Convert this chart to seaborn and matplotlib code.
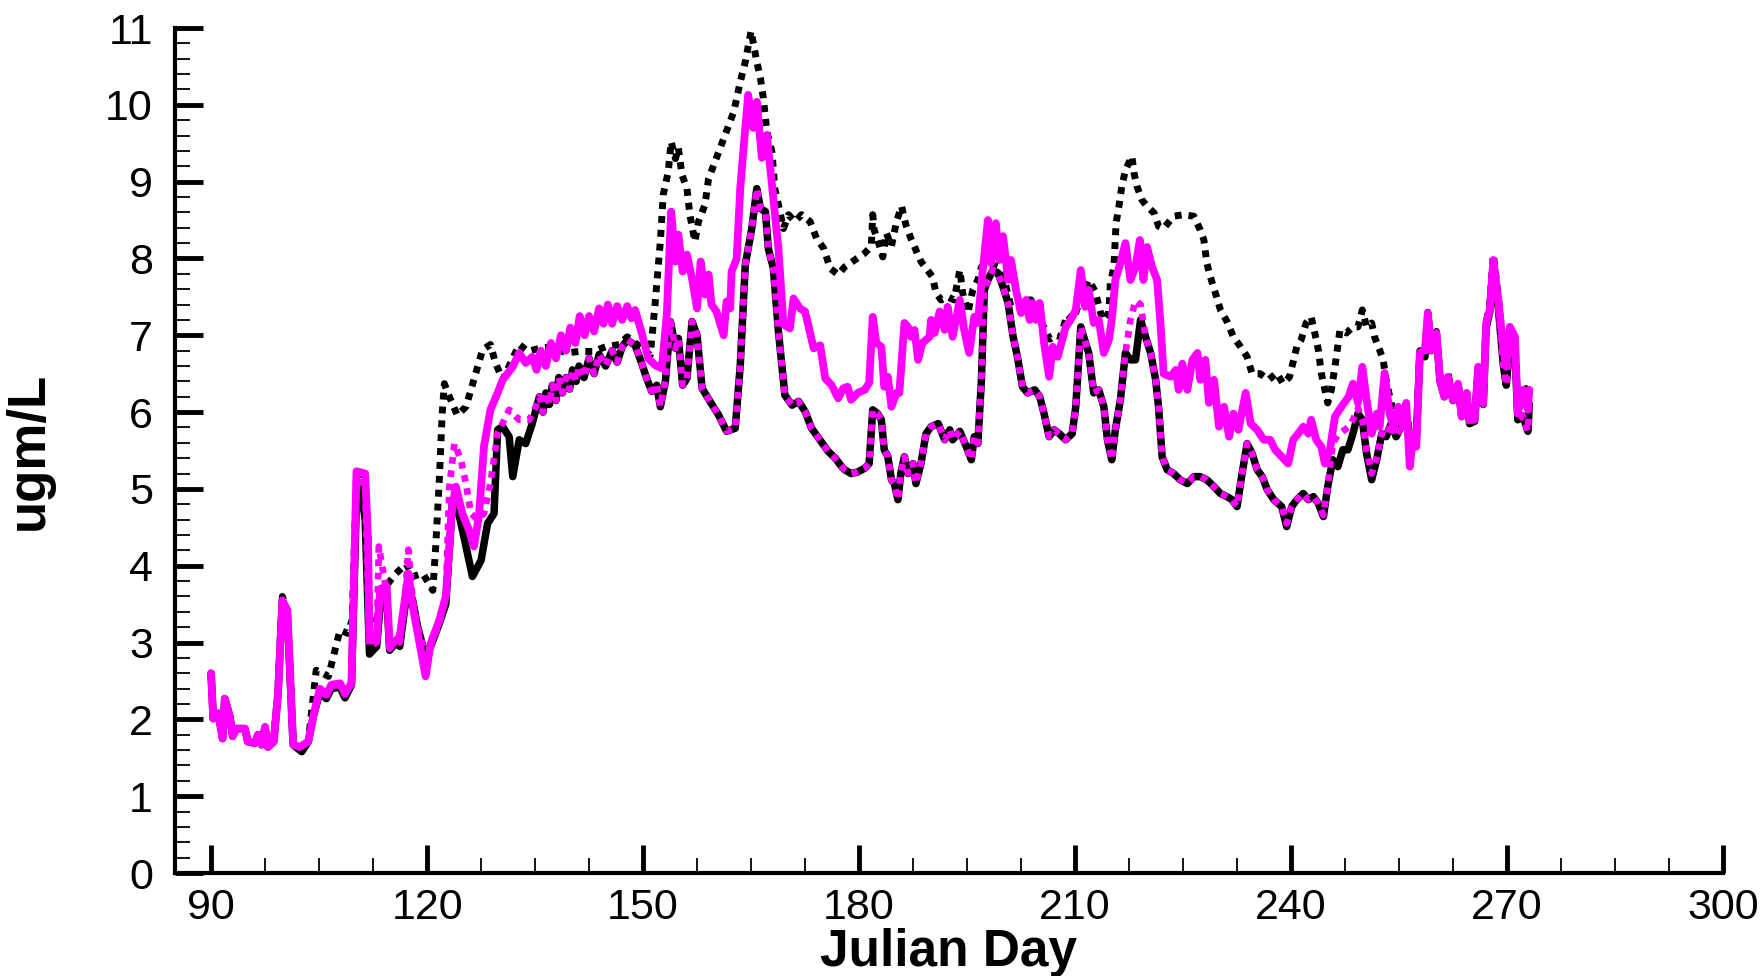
import pandas as pd
import matplotlib
matplotlib.use("Agg")
import matplotlib.pyplot as plt
import seaborn as sns
from matplotlib.ticker import MultipleLocator

# black solid (lower trace)
bs_day = [90, 90.3, 91, 91.6, 91.9, 92.6, 93, 93.5, 94.7, 95.1, 96.1, 96.5, 97, 97.5, 97.9, 98.7, 99.3, 99.9,
          100.6, 101.4, 102.3, 102.6, 103.5, 104.2, 105.1, 106, 106.7, 107.9, 108.6, 109.5, 110.2, 110.8, 111.4,
          112, 113, 113.5, 114.4, 114.8, 115.7, 116.2, 116.9, 117.4, 118, 118.7, 119.8, 120.5, 121.7, 122.6,
          123.5, 124, 125.2, 126.3, 127.5, 128.4, 129.3, 129.8, 130.5, 131.4, 131.9, 132.8, 133.7, 134.6, 135.6,
          136.1, 136.5, 137, 137.4, 137.9, 138.3, 138.8, 139.3, 139.8, 140.2, 140.7, 141.1, 141.8, 142.5, 143.2,
          143.9, 144.8, 145.7, 146.4, 147.1, 147.8, 148.9, 149.9, 150.5,
          151.2, 151.9, 152.4, 153.1, 153.8, 154.5, 154.9, 155.5, 156.1, 156.8, 157.5, 158.2, 159.3, 160.5,
          161.6, 162.8, 163.5, 164.2, 165.1, 165.8, 166.3, 167, 167.4, 168.1, 168.8, 169.7, 170.7, 171.6, 172.5,
          173.4, 174.4, 175.7, 176.7, 177.5, 178, 178.9, 179.8, 180.8, 181.4, 181.9, 182.6, 183.1, 183.5, 184,
          184.5, 184.9, 185.4, 185.8, 186.3, 186.8, 187.5, 187.9, 188.6, 189.3, 190, 191, 191.9, 192.6, 193, 194,
          194.9, 195.6, 196, 196.5, 197, 197.4, 197.9, 198.6, 199.3, 200, 200.7, 201.4, 202, 202.7, 203.4, 204.4,
          205.1, 205.7, 206.4, 207.1, 207.8, 208.7, 209.6, 210.1, 210.8, 211.2, 211.9, 212.6, 213.3, 214, 214.5,
          215.1, 215.6, 216.3, 217, 217.7, 218.4, 219.1, 219.8, 220.5, 221.2, 221.6, 222.1, 222.8, 223.7, 224.6,
          225.6, 226.5, 227.4, 228.3, 229.3, 230.2, 231.1, 231.8, 232.5, 233.2, 233.9, 234.6, 235.3, 236, 236.7,
          237.6, 238.7, 239.4, 240.1, 240.8, 241.7, 242.4, 243.1, 243.8, 244.5, 245.1, 245.8, 246.5, 247.2, 247.9,
          248.6, 249.3, 249.9, 250.5, 251.2, 251.9, 252.6, 253.2, 253.9, 254.6, 255.3, 256, 256.7, 257.4, 257.9,
          258.6, 259, 259.5, 260.2, 260.7, 261.3, 261.8, 262.5, 263.2, 263.7, 264.4, 264.8, 265.5, 266, 266.7,
          267.1, 267.6, 268.1, 268.8, 269.5, 269.9, 270.4, 271.1, 271.5, 272.2, 272.9, 273.1]
bs_val = [2.60, 2.01, 2.08, 1.75, 2.27, 2.04, 1.78, 1.88, 1.88, 1.71, 1.69, 1.80, 1.67, 1.90, 1.64, 1.71, 2.34, 3.55,
          3.35, 1.67, 1.60, 1.58, 1.71, 2.04, 2.35, 2.27, 2.40, 2.42, 2.28, 2.45, 4.90, 5.00, 4.60,
          2.85, 2.95, 3.50, 3.60, 2.90, 3.00, 2.95, 3.45, 3.70, 3.55, 3.20, 2.82, 2.95, 3.25, 3.50,
          4.81, 4.85, 4.34, 3.86, 4.07, 4.55, 4.68, 5.77, 5.81, 5.68, 5.16, 5.64, 5.59, 5.85, 6.20,
          6.00, 6.25, 6.10, 6.35, 6.15, 6.45, 6.25, 6.45, 6.30, 6.55, 6.40, 6.60, 6.45, 6.70, 6.50,
          6.75, 6.60, 6.80, 6.65, 6.85, 6.94, 6.87, 6.61, 6.44,
          6.27, 6.35, 6.07, 6.40, 7.18, 6.83, 6.96, 6.35, 6.44, 7.18, 7.00, 6.31, 6.14, 5.96,
          5.75, 5.79, 6.61, 7.92, 8.39, 8.91, 8.65, 8.61, 8.13, 7.87, 7.05, 6.22, 6.09, 6.14, 6.01,
          5.79, 5.66, 5.49, 5.40, 5.30, 5.25, 5.20, 5.22, 5.27, 5.33, 6.03, 5.98, 5.90, 5.51, 5.42,
          5.12, 5.07, 4.86, 5.20, 5.42, 5.20, 5.33, 5.07, 5.33, 5.72, 5.81, 5.85, 5.64, 5.77, 5.64, 5.75,
          5.55, 5.38, 5.68, 5.59, 6.42, 7.59, 7.72, 7.85, 7.81, 7.63, 7.42, 6.98, 6.72, 6.33, 6.25, 6.29,
          6.20, 5.98, 5.68, 5.77, 5.72, 5.64, 5.72, 6.07, 7.11, 6.98, 6.77, 6.25, 6.29, 6.07, 5.64,
          5.38, 5.77, 6.16, 6.77, 6.68, 6.68, 7.20, 6.98, 6.77, 6.42, 6.07, 5.42, 5.25, 5.20, 5.12,
          5.07, 5.16, 5.16, 5.12, 5.03, 4.94, 4.90, 4.86, 4.77, 5.20, 5.59, 5.46, 5.25, 5.16, 4.99,
          4.86, 4.77, 4.51, 4.77, 4.86, 4.94, 4.86, 4.90, 4.81, 4.64, 5.03, 5.38, 5.29, 5.51, 5.51,
          5.72, 5.98, 5.90, 5.46, 5.12, 5.38, 5.72, 5.68, 5.85, 5.68, 5.81, 5.98, 5.55, 5.64, 6.77,
          6.72, 7.24, 6.80, 7.00, 6.40, 6.20, 6.45, 6.15, 6.35, 5.95, 6.20, 5.85, 5.88, 6.55, 6.10,
          7.10, 7.30, 7.90, 7.35, 6.60, 6.35, 6.90, 6.80, 5.90, 5.95, 5.75, 6.10]

# black dotted (upper trace)
bd_day = [90, 90.3, 91, 91.6, 91.9, 92.6, 93, 93.5, 94.7, 95.1, 96.1, 96.5, 97, 97.5, 97.9, 98.7, 99.3, 99.9,
          100.6, 101.4, 102.3, 103.5, 104.2, 104.6, 105.5, 106.3, 107, 107.9, 109, 109.6, 110.2, 111.4, 111.8,
          112, 113, 113.5, 114.4, 115.7, 117.1, 118, 119.4, 120.8, 121.2, 121.7, 122.1, 122.4, 123.1, 124.2,
          125.4, 126.5, 127.7, 128.8, 129.5, 130.5, 131.9, 132.8, 134, 135.6, 137.4, 139.3, 141.1, 143, 144.8,
          146.7, 147.8, 149.9, 151, 151.7, 152.4, 152.8, 153.5, 153.9, 154.5, 154.9, 155.4, 156.1, 156.5, 157.2,
          157.7, 158.6, 159.1, 160, 161.4, 162.6, 163.5, 164.2, 165, 165.8, 166.3, 166.7, 167.2, 167.9, 168.3,
          168.8, 169.5, 170.2, 171.1, 172, 173.2, 174.1, 175.1, 176, 177.1, 178, 179.4, 180.8, 181.7, 181.9,
          182.1, 182.6, 183.3, 183.8, 184.5, 185.2, 185.9, 186.5, 187.2, 187.9, 188.6, 189.5, 190.2, 190.7,
          191.4, 192.3, 193.2, 194, 194.4, 195.1, 195.8, 196.5, 197, 197.9, 199.3, 200.2, 201.1, 202, 203, 203.9,
          204.8, 205.7, 206.5, 207.3, 208, 208.9, 209.8, 210.8, 211.9, 212.8, 213.8, 214.7, 214.9, 215.4, 215.7,
          216.1, 216.5, 217, 217.9, 218.2, 218.6, 219.3, 220, 221, 221.6, 222.3, 223.7, 225.1, 226.5, 227.4,
          227.9, 228.3, 228.8, 229.5, 230.2, 231.1, 232, 233, 233.9, 234.6, 235.7, 236.9, 238, 238.9, 239.8,
          240.8, 241.4, 242.1, 242.8, 243.3, 243.8, 244.2, 244.7, 245.1, 245.6, 246.1, 246.8, 247.7, 248.6,
          249.3, 249.9, 250.5, 251.2, 251.6, 252.3, 252.8, 253.2, 253.9, 254.6, 255.3, 256, 256.7, 257.4, 257.9,
          258.6, 259, 259.5, 260.2, 260.7, 261.3, 261.8, 262.5, 263.2, 263.7, 264.4, 264.8, 265.5, 266, 266.7,
          267.1, 267.6, 268.1, 268.8, 269.5, 269.9, 270.4, 271.1, 271.5, 272.2, 272.9, 273.1]
bd_val = [2.60, 2.01, 2.08, 1.75, 2.27, 2.04, 1.78, 1.88, 1.88, 1.71, 1.69, 1.80, 1.67, 1.90, 1.64, 1.71, 2.40, 3.60,
          3.40, 1.67, 1.64, 1.71, 2.30, 2.64, 2.60, 2.56, 2.82, 3.16, 3.12, 3.30, 5.20, 5.18, 4.30,
          3.20, 3.30, 3.60, 3.75, 3.90, 4.03, 3.86, 3.90, 3.68, 4.25, 5.12, 5.98, 6.37, 6.20, 5.96,
          6.07, 6.42, 6.81, 6.88, 6.64, 6.42, 6.70, 6.88, 6.79, 6.83, 6.85, 6.77, 6.79, 6.79, 6.85,
          6.88, 6.98, 6.83, 6.74, 7.44, 8.22, 8.83, 9.13, 9.52, 9.30, 9.44, 9.09, 8.91, 8.57, 8.22,
          8.48, 8.70, 9.04, 9.26, 9.61, 9.91, 10.30, 10.56, 10.96, 10.56, 10.35, 10.09, 9.65, 9.39, 8.91,
          8.70, 8.39, 8.57, 8.48, 8.57, 8.48, 8.26, 8.13, 7.87, 7.79, 7.89, 7.98, 8.07, 8.16, 8.57,
          8.37, 8.24, 8.02, 8.33, 8.16, 8.48, 8.68, 8.44, 8.26, 8.11, 7.96, 7.85, 7.76, 7.55,
          7.46, 7.50, 7.46, 7.85, 7.55, 7.29, 7.59, 7.72, 7.89, 7.94, 7.89, 7.72, 7.37, 7.37, 7.46, 7.46,
          7.24, 7.10, 6.95, 7.00, 6.98, 7.27, 7.20, 7.50, 7.72, 7.57, 7.20, 7.29, 7.68, 7.89, 8.46,
          8.68, 8.94, 9.15, 9.33, 9.11, 8.94, 8.76, 8.68, 8.59, 8.42, 8.39, 8.55, 8.57, 8.55, 8.37,
          8.24, 7.94, 7.76, 7.55, 7.33, 7.18, 6.98, 6.85, 6.72, 6.50, 6.50, 6.42, 6.51, 6.37, 6.46,
          6.85, 6.94, 7.16, 7.24, 7.03, 6.81, 6.51, 6.29, 6.12, 6.29, 6.59, 7.07, 7.03, 7.11,
          7.11, 7.33, 7.11, 7.16, 6.98, 6.81, 6.68, 6.42, 6.12, 5.90, 5.90, 6.00, 5.60, 5.70, 6.80,
          6.80, 7.30, 6.85, 7.05, 6.45, 6.25, 6.50, 6.20, 6.40, 5.95, 6.25, 5.95, 5.95, 6.60, 6.15,
          7.16, 7.40, 8.05, 7.50, 6.80, 6.55, 7.10, 6.95, 6.10, 6.30, 6.30, 6.35]

# magenta solid (middle trace)
ms_day = [90, 90.3, 91, 91.6, 91.9, 92.6, 93, 93.5, 94.7, 95.1, 96.1, 96.5, 97, 97.5, 97.9, 98.7, 99.3, 99.9,
          100.6, 101.4, 102.3, 103.5, 104.2, 105.1, 106, 106.7, 107.9, 108.6, 109.5, 110.2, 111.4, 111.8, 112,
          113, 113.5, 114.4, 114.8, 115.7, 116.2, 116.9, 117.4, 118, 118.7, 119.8, 120.5, 121.7, 122.6, 123.5,
          124, 124.9, 125.8, 126.5, 127.2, 127.9, 128.8, 129.8, 130.5, 131.9, 132.8, 133.7, 134.6, 135.2, 135.8,
          136.5, 137.2, 137.9, 138.6, 139.3, 139.9, 140.6, 141.2, 141.9, 142.5, 143.2, 143.9, 144.5, 145.1,
          145.7, 146.4, 147.1, 147.8, 148.4, 148.9, 149.9, 150.7, 151.7, 152.6, 153.3, 153.9,
          154.5, 154.9, 155.5, 156.1, 156.8, 157.5, 158, 158.6, 159.1, 159.5, 160.2, 161.2, 161.6, 162.1, 162.3,
          163, 163.5, 164, 164.6, 165.3, 165.8, 166.5, 167.2, 167.9, 168.8, 169.5, 170.4, 170.9, 171.8, 172.5,
          173.7, 174.6, 175.3, 176.2, 177.1, 177.8, 178.4, 178.9, 179.8, 180.8, 181.4, 181.9, 182.4, 183.1,
          183.5, 184, 184.5, 185.2, 185.6, 186.3, 186.8, 187.2, 187.7, 188.2, 188.8, 189.8, 190, 190.5, 191.2,
          191.9, 192.3, 193, 194, 194.6, 195.3, 196, 196.5, 197, 197.9, 198.3, 199, 199.5, 200, 200.7, 201.1,
          201.8, 202.5, 203.2, 203.7, 204.1, 204.6, 205.1, 205.7, 206.4, 206.9, 207.6, 208.7, 209.4, 210.1,
          210.8, 211.4, 211.9, 212.6, 213.3, 214, 214.7, 215.1, 215.6, 216.3, 217, 217.7, 218.4, 219, 219.5,
          220, 220.7, 221.4, 221.9, 222.3, 223.3, 224, 224.4, 224.9, 225.6, 226.3, 227, 227.4, 228.1, 228.6,
          229.3, 230, 230.7, 231.4, 232, 232.7, 233.7, 234.4, 235.3, 236.2, 237.1, 237.8, 238.7, 239.6, 240.3,
          241, 241.7, 242.4, 242.8, 243.5, 244.2, 244.7, 245.4, 246.1, 247, 248, 248.6, 249.3, 249.9, 250.5,
          251.2, 251.9, 252.3, 253, 253.7, 254.2, 254.9, 255.6, 256, 256.5, 257, 257.4, 257.9, 258.6, 259,
          259.5, 260.2, 260.7, 261.3, 261.8, 262.5, 263.2, 263.7, 264.4, 264.8, 265.5, 266, 266.7, 267.1, 267.6,
          268.1, 268.8, 269.5, 269.9, 270.4, 271.1, 271.5, 272.2, 272.9, 273.1]
ms_val = [2.60, 2.01, 2.08, 1.75, 2.27, 2.04, 1.78, 1.88, 1.88, 1.71, 1.69, 1.80, 1.67, 1.90, 1.64, 1.71, 2.34, 3.55,
          3.42, 1.67, 1.64, 1.71, 2.04, 2.40, 2.32, 2.45, 2.47, 2.34, 2.47, 5.23, 5.20, 4.34, 3.03,
          3.03, 3.70, 3.73, 2.95, 3.03, 3.08, 3.55, 3.90, 3.47, 3.12, 2.56, 2.99, 3.29, 3.60, 4.77,
          5.03, 4.68, 4.47, 4.25, 4.64, 5.55, 6.03, 6.25, 6.42, 6.59, 6.77, 6.64, 6.72, 6.55, 6.80,
          6.60, 6.90, 6.70, 7.00, 6.80, 7.10, 6.90, 7.25, 7.00, 7.25, 7.05, 7.35, 7.15, 7.40,
          7.15, 7.38, 7.20, 7.38, 7.22, 7.33, 7.00, 6.70, 6.61, 6.57, 7.27, 8.61,
          7.96, 8.31, 7.83, 8.05, 7.74, 7.35, 7.96, 7.53, 7.79, 7.40, 7.31, 7.00, 7.44, 7.35, 7.83,
          8.00, 8.91, 9.48, 10.13, 9.70, 10.04, 9.31, 9.61, 8.96, 8.13, 7.14, 7.09, 7.48, 7.35, 7.31,
          6.83, 6.87, 6.44, 6.35, 6.18, 6.31, 6.33, 6.16, 6.25, 6.29, 6.38, 7.24, 6.90, 6.85,
          6.33, 6.46, 6.07, 6.25, 6.25, 7.16, 7.11, 6.98, 7.07, 6.68, 6.90, 6.98, 7.20, 7.03, 7.31,
          7.07, 7.37, 6.98, 7.46, 7.07, 6.77, 7.24, 7.16, 7.68, 8.50, 7.94, 8.46, 7.98, 8.29, 7.72, 7.98,
          7.59, 7.29, 7.46, 7.20, 7.42, 7.20, 7.42, 6.90, 6.46, 6.85, 6.72, 7.11, 7.20, 7.33,
          7.85, 7.37, 7.59, 7.16, 7.20, 6.77, 6.94, 7.20, 7.72, 7.94, 8.20, 7.72, 7.89, 8.24, 7.72,
          8.15, 7.89, 7.72, 7.11, 6.50, 6.46, 6.55, 6.29, 6.63, 6.29, 6.68, 6.77, 6.42, 6.68, 6.12,
          6.42, 5.81, 6.07, 5.68, 5.98, 5.77, 6.25, 5.85, 5.77, 5.64, 5.64, 5.51, 5.42, 5.33, 5.64,
          5.72, 5.81, 5.72, 5.90, 5.64, 5.55, 5.33, 5.51, 5.94, 6.07, 6.20, 6.37, 6.12, 6.59, 6.16,
          5.72, 5.98, 5.81, 6.51, 5.98, 5.81, 6.07, 5.81, 6.12, 5.29, 5.72, 5.55, 6.77, 6.81, 7.29,
          6.81, 7.03, 6.42, 6.20, 6.46, 6.16, 6.37, 5.94, 6.25, 5.90, 5.90, 6.59, 6.12, 7.16, 7.33,
          7.98, 7.46, 6.81, 6.59, 7.11, 6.98, 5.98, 6.29, 6.03, 6.29]

# magenta dotted (mostly on top of the black solid trace)
md_day = [90, 90.3, 91, 91.6, 91.9, 92.6, 93, 93.5, 94.7, 95.1, 96.1, 96.5, 97, 97.5, 97.9, 98.7, 99.3, 99.9,
          100.6, 101.4, 102.3, 103.5, 104.2, 105.1, 106, 106.7, 107.9, 108.6, 109.5, 110.2, 110.8, 111.4,
          112, 113, 113.3, 114.4, 114.8, 115.7, 116.2, 116.9, 117.4, 118, 118.7, 119.8, 120.5, 121.7, 122.6,
          123.1, 123.8, 124.7, 125.4, 126.1, 127, 127.9, 128.8, 129.8, 131.4, 132.8, 134.2, 135.1, 135.6,
          136.1, 136.5, 137, 137.4, 137.9, 138.3, 138.8, 139.3, 139.8, 140.2, 140.7, 141.1, 141.8, 142.5, 143.2,
          143.9, 144.8, 145.7, 146.4, 147.1, 147.8, 148.9, 149.9, 150.5,
          151.2, 151.9, 152.4, 153.1, 153.8, 154.5, 154.9, 155.5, 156.1, 156.8, 157.5, 158.2, 159.3, 160.5,
          161.6, 162.8, 163.5, 164.2, 165.1, 165.8, 166.3, 167, 167.4, 168.1, 168.8, 169.7, 170.7, 171.6, 172.5,
          173.4, 174.4, 175.7, 176.7, 177.5, 178, 178.9, 179.8, 180.8, 181.4, 181.9, 182.6, 183.1, 183.5, 184,
          184.5, 184.9, 185.4, 185.8, 186.3, 186.8, 187.5, 187.9, 188.6, 189.3, 190, 191, 191.9, 192.6, 193, 194,
          194.9, 195.6, 196, 196.5, 197, 197.4, 197.9, 198.6, 199.3, 200, 200.7, 201.4, 202, 202.7, 203.4, 204.4,
          205.1, 205.7, 206.4, 207.1, 207.8, 208.7, 209.6, 210.1, 210.8, 211.2, 211.9, 212.6, 213.3, 214, 214.5,
          215.1, 215.6, 216.3, 217, 217.7, 218.4, 219.1, 219.8, 220.5, 221.2, 221.6, 222.1, 222.8, 223.7, 224.6,
          225.6, 226.5, 227.4, 228.3, 229.3, 230.2, 231.1, 231.8, 232.5, 233.2, 233.9, 234.6, 235.3, 236, 236.7,
          237.6, 238.7, 239.4, 240.1, 240.8, 241.7, 242.4, 243.1, 243.8, 244.5, 245.1, 245.8, 246.5, 247.2, 247.9,
          248.6, 249.3, 249.9, 250.5, 251.2, 251.9, 252.6, 253.2, 253.9, 254.6, 255.3, 256, 256.7, 257.4, 257.9,
          258.6, 259, 259.5, 260.2, 260.7, 261.3, 261.8, 262.5, 263.2, 263.7, 264.4, 264.8, 265.5, 266, 266.7,
          267.1, 267.6, 268.1, 268.8, 269.5, 269.9, 270.4, 271.1, 271.5, 272.2, 272.9, 273.1]
md_val = [2.60, 2.01, 2.08, 1.75, 2.27, 2.04, 1.78, 1.88, 1.88, 1.71, 1.69, 1.80, 1.67, 1.90, 1.64, 1.71, 2.34, 3.55,
          3.40, 1.67, 1.64, 1.71, 2.04, 2.38, 2.30, 2.43, 2.45, 2.32, 2.46, 5.10, 5.15, 5.00,
          2.95, 3.00, 4.25, 3.65, 2.92, 3.00, 3.00, 3.50, 4.21, 3.55, 3.20, 2.82, 2.95, 3.25, 3.60,
          5.03, 5.59, 5.38, 5.07, 4.68, 4.60, 4.68, 5.07, 5.72, 6.03, 5.90, 5.90, 6.07, 6.20,
          6.00, 6.25, 6.10, 6.35, 6.15, 6.45, 6.25, 6.45, 6.30, 6.55, 6.40, 6.60, 6.45, 6.70, 6.50,
          6.75, 6.60, 6.80, 6.65, 6.85, 6.94, 6.87, 6.61, 6.44,
          6.27, 6.35, 6.07, 6.40, 7.18, 6.83, 6.96, 6.35, 6.44, 7.18, 7.00, 6.31, 6.14, 5.96,
          5.75, 5.79, 6.61, 7.92, 8.39, 8.91, 8.65, 8.61, 8.13, 7.87, 7.05, 6.22, 6.09, 6.14, 6.01,
          5.79, 5.66, 5.49, 5.40, 5.30, 5.25, 5.20, 5.22, 5.27, 5.33, 6.03, 5.98, 5.90, 5.51, 5.42,
          5.12, 5.07, 4.86, 5.20, 5.42, 5.20, 5.33, 5.07, 5.33, 5.72, 5.81, 5.85, 5.64, 5.77, 5.64, 5.75,
          5.55, 5.38, 5.68, 5.59, 6.42, 7.59, 7.72, 7.85, 7.81, 7.63, 7.42, 6.98, 6.72, 6.33, 6.25, 6.29,
          6.20, 5.98, 5.68, 5.77, 5.72, 5.64, 5.72, 6.07, 7.11, 6.98, 6.77, 6.25, 6.29, 6.07, 5.64,
          5.38, 5.77, 6.16, 6.77, 7.20, 7.45, 7.40, 6.98, 6.77, 6.42, 6.07, 5.42, 5.25, 5.20, 5.12,
          5.07, 5.16, 5.16, 5.12, 5.03, 4.94, 4.90, 4.86, 4.77, 5.20, 5.59, 5.46, 5.25, 5.16, 4.99,
          4.86, 4.77, 4.55, 4.77, 4.86, 4.94, 4.86, 4.90, 4.81, 4.66, 5.03, 5.60, 5.70, 5.75, 5.80,
          5.90, 6.05, 5.90, 5.50, 5.20, 5.40, 5.72, 5.68, 5.85, 5.68, 5.81, 5.98, 5.55, 5.64, 6.77,
          6.72, 7.24, 6.80, 7.00, 6.40, 6.20, 6.45, 6.15, 6.35, 5.95, 6.20, 5.85, 5.88, 6.55, 6.10,
          7.10, 7.30, 7.90, 7.35, 6.60, 6.35, 6.90, 6.80, 5.90, 5.95, 5.75, 6.10]

x_ticks = [90, 120, 150, 180, 210, 240, 270, 300]

sns.set_theme(style="white")
plt.rcParams['font.family'] = ['Liberation Sans', 'DejaVu Sans']
plt.rcParams['text.color'] = 'black'
plt.rcParams['axes.labelcolor'] = 'black'
plt.rcParams['xtick.color'] = 'black'
plt.rcParams['ytick.color'] = 'black'

fig = plt.figure(figsize=(17.65, 9.76), dpi=100)
ax = fig.add_axes([0.0992, 0.1055, 0.8770, 0.8658])

dot = (0, (1, 1))
sns.lineplot(x=bs_day, y=bs_val, ax=ax, color='black', linewidth=5.4, estimator=None, sort=False)
sns.lineplot(x=bd_day, y=bd_val, ax=ax, color='black', linewidth=5.0, linestyle=dot, estimator=None, sort=False)
sns.lineplot(x=ms_day, y=ms_val, ax=ax, color='#ff00ff', linewidth=5.6, estimator=None, sort=False)
sns.lineplot(x=md_day, y=md_val, ax=ax, color='#ff00ff', linewidth=4.8, linestyle=dot, estimator=None, sort=False)

ax.set_xlim(85, 300)
ax.set_ylim(0, 11)
ax.set_xticks(x_ticks)
ax.xaxis.set_minor_locator(MultipleLocator(7.5))
ax.yaxis.set_major_locator(MultipleLocator(1))
ax.yaxis.set_minor_locator(MultipleLocator(0.2))

for s in ['top', 'right']:
    ax.spines[s].set_visible(False)
for s in ['left', 'bottom']:
    ax.spines[s].set_linewidth(3)
    ax.spines[s].set_color('black')

ax.tick_params(which='major', direction='in', length=20, width=3.5, color='black', labelsize=31)
ax.tick_params(which='minor', direction='in', length=11, width=1.3, color='black')
ax.tick_params(axis='x', which='major', pad=11)
ax.tick_params(axis='y', which='major', pad=16)
ax.tick_params(axis='both', which='both', bottom=True, left=True)

ax.set_xlabel('Julian Day', fontsize=37, fontweight='bold', labelpad=0)
ax.set_ylabel('ugm/L', fontsize=38, fontweight='bold', labelpad=37)
ax.grid(False)

fig.savefig('out.png', dpi=100)
